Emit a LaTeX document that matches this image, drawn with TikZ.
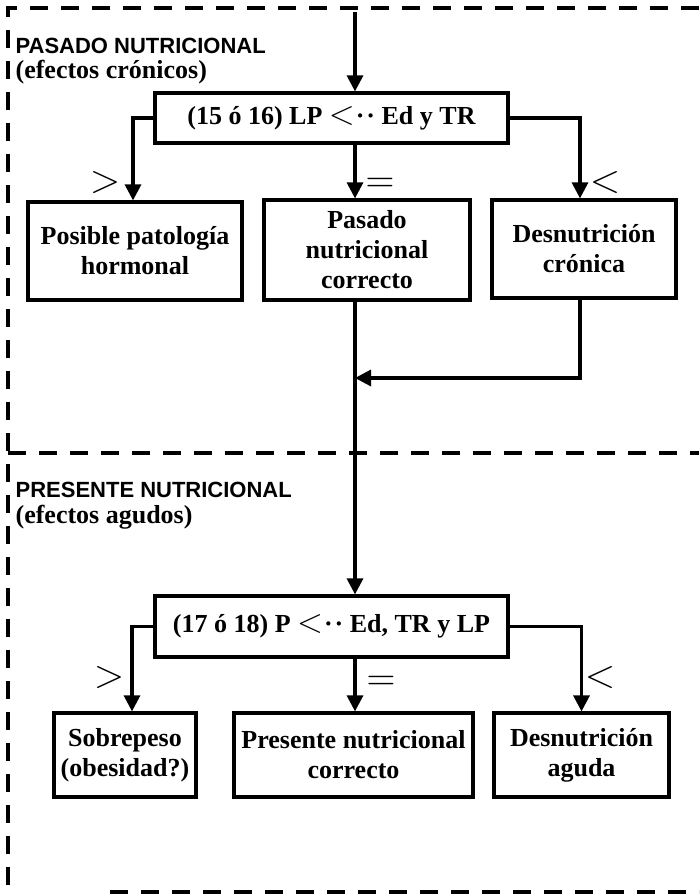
\RequirePackage{fix-cm}
\documentclass[tikz,border=0pt]{standalone}
\usepackage{fontspec}
\setmainfont{Liberation Serif}
\setsansfont{Liberation Sans}
\usetikzlibrary{arrows.meta}
\newcommand{\lessdots}{{\fontsize{34}{30}\selectfont$<$}\kern1pt·\kern2pt·}
\begin{document}
\begin{tikzpicture}[x=1pt,y=-1pt,line width=3.2pt,>={Triangle[length=16pt,width=16pt]},
    font=\bfseries\fontsize{26}{30}\selectfont]
    \tikzstyle{frame}=[dash pattern=on 18pt off 13pt]
    \tikzstyle{box}=[draw,rectangle,align=center,inner sep=2pt]
    \tikzstyle{title}=[anchor=west,inner sep=0pt,font=\sffamily\bfseries\fontsize{22}{26}\selectfont]
    \tikzstyle{sub}=[anchor=west,inner sep=0pt]
    \tikzstyle{sign}=[inner sep=0pt,font=\fontsize{40}{40}\selectfont]

    \useasboundingbox (0,0) rectangle (699,894);

    % dashed frame
    \draw[frame] (699,8) -- (8,8) -- (8,894);
    \draw[frame] (8,453) -- (699,453);
    \draw[frame] (110,892) -- (699,892);

    % headings
    \node[title] (pasado) at (14,46) {PASADO NUTRICIONAL};
    \node[sub] (cronicos) at (14,72) {(efectos crónicos)};
    \node[title] (presente) at (14,490) {PRESENTE NUTRICIONAL};
    \node[sub] (agudos) at (14,517) {(efectos agudos)};

    \coordinate (trunk) at (355,12);
    \coordinate (join) at (355,378);

    % first level
    \node[box,minimum width=353pt,minimum height=50pt] (LP) at (331.5,118)
        {(15 ó 16) LP \lessdots{} Ed y TR};
    \node[box,minimum width=214pt,minimum height=98pt] (hormonal) at (135,251)
        {Posible patología\\hormonal};
    \node[box,minimum width=206pt,minimum height=100pt] (pcorrecto) at (367,250)
        {Pasado\\nutricional\\correcto};
    \node[box,minimum width=184pt,minimum height=98pt] (cronica) at (584,249)
        {Desnutrición\\crónica};

    \node[sign] (gt-1) at (105,182) {$>$};
    \node[sign] (eq-1) at (380,185) {$=$};
    \node[sign] (lt-1) at (605,182) {$<$};

    \draw[->] (trunk) -- (trunk |- LP.north);
    \draw[->] (LP.west) -| ([xshift=-2pt]hormonal.north);
    \draw[->] (LP.south -| trunk) -- (pcorrecto.north -| trunk);
    \draw[->] (LP.east) -| ([xshift=-4pt]cronica.north);
    \draw[->] ([xshift=-4pt]cronica.south) |- (join);

    % second level
    \node[box,minimum width=353pt,minimum height=61pt] (P) at (331.5,626.5)
        {(17 ó 18) P \lessdots{} Ed, TR y LP};
    \node[box,minimum width=142pt,minimum height=84pt] (sobrepeso) at (125,755)
        {Sobrepeso\\(obesidad?)};
    \node[box,minimum width=239pt,minimum height=84pt] (prcorrecto) at (353.5,755)
        {Presente nutricional\\correcto};
    \node[box,minimum width=175pt,minimum height=84pt] (aguda) at (581.5,755)
        {Desnutrición\\aguda};

    \node[sign] (gt-2) at (109,677) {$>$};
    \node[sign] (eq-2) at (381,683) {$=$};
    \node[sign] (lt-2) at (600,677) {$<$};

    \draw[->] (pcorrecto.south -| trunk) -- (P.north -| trunk);
    \draw[->] (P.west) -| ([xshift=7pt]sobrepeso.north);
    \draw[->] (P.south -| trunk) -- (prcorrecto.north -| trunk);
    \draw[->] (P.east) -| (aguda.north);
\end{tikzpicture}
\end{document}
